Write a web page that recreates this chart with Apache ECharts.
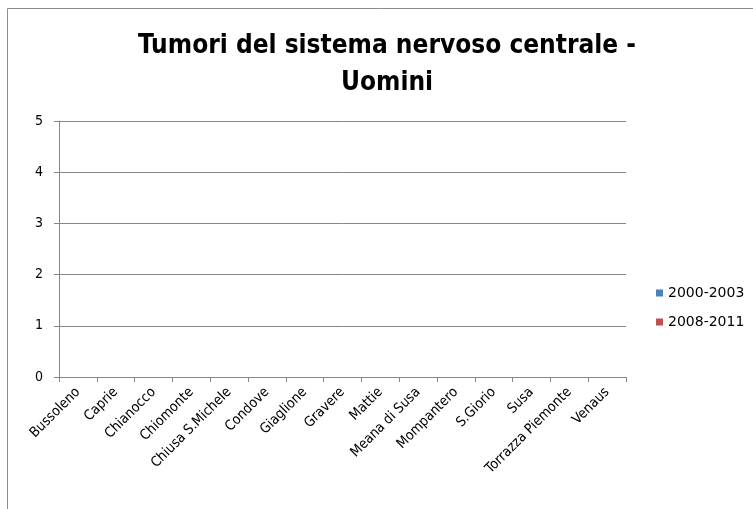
<!DOCTYPE html>
<html><head><meta charset="utf-8">
<script src="https://cdn.jsdelivr.net/npm/echarts@6/dist/echarts.min.js"></script>
<style>html,body{margin:0;padding:0;background:#fff}#c{width:753px;height:509px}</style>
</head><body><div id="c"></div>
<script>
var categories = ["Bussoleno","Caprie","Chianocco","Chiomonte","Chiusa S.Michele","Condove","Giaglione","Gravere","Mattie","Meana di Susa","Mompantero","S.Giorio","Susa","Torrazza Piemonte","Venaus"];
var seriesNames = ["2000-2003","2008-2011"];
var values2000 = [0,0,0,0,0,0,0,0,0,0,0,0,0,0,0];
var values2008 = [0,0,0,0,0,0,0,0,0,0,0,0,0,0,0];
var yTicks = [0,1,2,3,4,5];

var font = "'Liberation Sans Narrow','DejaVu Sans Condensed',sans-serif";
var chart = echarts.init(document.getElementById('c'));
chart.setOption({
  animation:false,
  graphic:[{type:'rect',shape:{x:7.5,y:8.5,width:800,height:600},style:{fill:'none',stroke:'#8c8c8c',lineWidth:1}}],
  title:{text:'Tumori del sistema nervoso centrale -\nUomini',left:382,top:23,textAlign:'center',
    textStyle:{fontFamily:font,fontSize:26,fontWeight:'bold',color:'#000',lineHeight:37}},
  legend:{orient:'vertical',left:651,top:281,itemWidth:7,itemHeight:7,itemGap:15,icon:'rect',
    textStyle:{fontFamily:"'DejaVu Sans',sans-serif",fontSize:14,color:'#000'},data:seriesNames},
  grid:{left:59,right:127,top:121,bottom:132},
  xAxis:{type:'category',data:categories,
    axisLine:{lineStyle:{color:'#868686'}},
    axisTick:{show:true,length:5,lineStyle:{color:'#868686'}},
    axisLabel:{rotate:45,interval:0,fontFamily:font,fontSize:14,color:'#000',margin:13}},
  yAxis:{type:'value',min:yTicks[0],max:yTicks[yTicks.length-1],interval:1,
    axisLine:{show:true,lineStyle:{color:'#868686'}},
    axisTick:{show:true,length:5,lineStyle:{color:'#868686'}},
    splitLine:{lineStyle:{color:'#868686'}},
    axisLabel:{fontFamily:font,fontSize:14,color:'#000',margin:16}},
  series:[
    {name:seriesNames[0],type:'bar',data:values2000,itemStyle:{color:'#4f81bd'}},
    {name:seriesNames[1],type:'bar',data:values2008,itemStyle:{color:'#c0504d'}}
  ]
});
</script></body></html>
